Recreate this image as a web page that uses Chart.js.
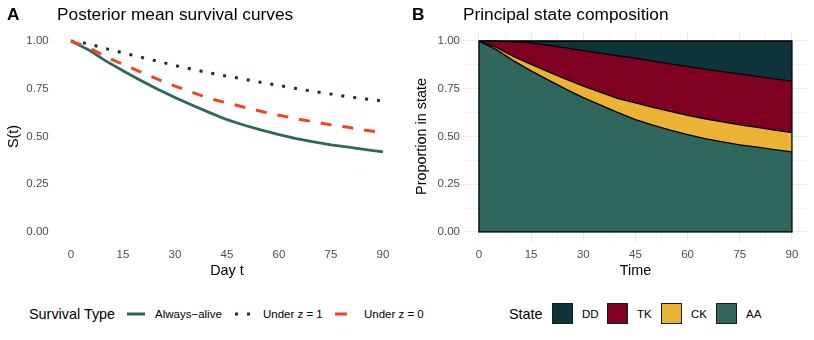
<!DOCTYPE html>
<html lang="en">
<head>
  <meta charset="UTF-8" />
  <title>Survival curves</title>
  <script src="https://cdn.jsdelivr.net/npm/chart.js@4.4.0/dist/chart.umd.min.js"></script>
  <style>
    body { margin: 0; background: #fff; font-family: "Liberation Sans", Arial, sans-serif; }
    #wrap { position: relative; width: 814px; height: 340px; overflow: hidden; }
    .panel { position: absolute; top: 0; }
    .t { position: absolute; white-space: nowrap; line-height: 1; color: #000; }
    .tag { font-size: 17.3px; font-weight: bold; }
    .ttl { font-size: 17.3px; }
    .lt { font-size: 14.4px; }
    .lab { font-size: 11.5px; }
    .key { position: absolute; }
    .sw { position: absolute; width: 19px; height: 19px; border: 1px solid #1a1a1a; top: 303px; }
  </style>
</head>
<body>
<div id="wrap">
  <canvas id="chartA" class="panel" style="left:0" width="407" height="285"></canvas>
  <canvas id="chartB" class="panel" style="left:407px" width="407" height="285"></canvas>

  <div class="t tag" style="left:7px;top:6px">A</div>
  <div class="t ttl" style="left:57px;top:6px">Posterior mean survival curves</div>
  <div class="t tag" style="left:412px;top:6px">B</div>
  <div class="t ttl" style="left:463px;top:6px">Principal state composition</div>

  <!-- legend A -->
  <div class="t lt" style="left:29px;top:306.8px">Survival Type</div>
  <svg class="key" style="left:127px;top:306px" width="18" height="16"><line x1="0" y1="8" x2="18" y2="8" stroke="#2F675D" stroke-width="3"/></svg>
  <div class="t lab" style="left:155px;top:308.6px">Always−alive</div>
  <svg class="key" style="left:235px;top:306px" width="17" height="16"><line x1="0" y1="8" x2="17" y2="8" stroke="#0C343A" stroke-width="3" stroke-dasharray="3 9"/></svg>
  <div class="t lab" style="left:263px;top:308.6px">Under z = 1</div>
  <svg class="key" style="left:335px;top:306px" width="17" height="16"><line x1="0" y1="8" x2="17" y2="8" stroke="#F0431E" stroke-width="3" stroke-dasharray="12 12"/></svg>
  <div class="t lab" style="left:364px;top:308.6px">Under z = 0</div>

  <!-- legend B -->
  <div class="t lt" style="left:509px;top:306.8px">State</div>
  <div class="sw" style="left:552px;background:#0C343A"></div>
  <div class="t lab" style="left:582px;top:308.6px">DD</div>
  <div class="sw" style="left:607px;background:#800022"></div>
  <div class="t lab" style="left:637px;top:308.6px">TK</div>
  <div class="sw" style="left:661px;background:#EBB234"></div>
  <div class="t lab" style="left:691px;top:308.6px">CK</div>
  <div class="sw" style="left:716px;background:#2F675D"></div>
  <div class="t lab" style="left:746px;top:308.6px">AA</div>
</div>
<script>
// values, every 5 days
const days        = [0, 5, 10, 15, 20, 25, 30, 35, 40, 45, 50, 55, 60, 65, 70, 75, 80, 85, 90]
const alwaysAlive = [1.000, 0.955, 0.896, 0.844, 0.795, 0.748, 0.704, 0.664, 0.625, 0.588, 0.559, 0.533, 0.510, 0.489, 0.472, 0.456, 0.444, 0.431, 0.419]
const underZ1     = [1.000, 0.986, 0.961, 0.938, 0.916, 0.894, 0.872, 0.852, 0.833, 0.816, 0.800, 0.783, 0.767, 0.751, 0.736, 0.722, 0.708, 0.697, 0.686]
const underZ0     = [1.000, 0.967, 0.918, 0.878, 0.839, 0.800, 0.764, 0.731, 0.699, 0.676, 0.653, 0.631, 0.611, 0.593, 0.577, 0.561, 0.548, 0.533, 0.520]

// state shares (stacked bottom to top: AA, CK, TK, DD)
const shareAA = [1.000, 0.955, 0.896, 0.844, 0.795, 0.748, 0.704, 0.664, 0.625, 0.588, 0.559, 0.533, 0.510, 0.489, 0.472, 0.456, 0.444, 0.431, 0.419]
const shareCK = [0.000, 0.012, 0.022, 0.034, 0.044, 0.052, 0.060, 0.067, 0.074, 0.088, 0.094, 0.098, 0.101, 0.104, 0.105, 0.105, 0.104, 0.102, 0.101]
const shareTK = [0.000, 0.032, 0.078, 0.112, 0.139, 0.164, 0.186, 0.205, 0.224, 0.234, 0.242, 0.249, 0.255, 0.260, 0.263, 0.267, 0.267, 0.269, 0.270]
const shareDD = [0.000, 0.001, 0.004, 0.010, 0.022, 0.036, 0.050, 0.064, 0.077, 0.090, 0.105, 0.120, 0.134, 0.147, 0.160, 0.172, 0.185, 0.198, 0.210]

const xTicks = [0, 15, 30, 45, 60, 75, 90]
const yTicks = [0, 0.25, 0.5, 0.75, 1]
const xMinor = [7.5, 22.5, 37.5, 52.5, 67.5, 82.5]
const yMinor = [0.125, 0.375, 0.625, 0.875]

const GREEN = '#2F675D'
const DARK = '#0C343A'
const RED = '#800022'
const GOLD = '#EBB234'
const ORANGE = '#F0431E'

Chart.defaults.font.family = '"Liberation Sans", Arial, sans-serif'

const pts = arr => days.map((d, i) => ({ x: d, y: arr[i] }))

const tickFont = { color: '#4D4D4D', font: { size: 11.5 }, maxRotation: 0, autoSkip: false }

// panel A
new Chart(document.getElementById('chartA'), {
  type: 'line',
  data: {
    datasets: [
      { label: 'Under z = 0', data: pts(underZ0), borderColor: ORANGE, borderWidth: 3, borderDash: [11, 11], borderCapStyle: 'butt', pointRadius: 0 },
      { label: 'Under z = 1', data: pts(underZ1), borderColor: DARK, borderWidth: 3, borderDash: [3, 9], borderCapStyle: 'butt', pointRadius: 0 },
      { label: 'Always−alive', data: pts(alwaysAlive), borderColor: GREEN, borderWidth: 2.8, pointRadius: 0 }
    ]
  },
  options: {
    responsive: false,
    animation: false,
    layout: { padding: { left: 0, right: 8.4, top: 31.5, bottom: 0 } },
    plugins: { legend: { display: false }, tooltip: { enabled: false } },
    scales: {
      x: {
        type: 'linear', min: -4.5, max: 94.5,
        afterBuildTicks: s => { s.ticks = xTicks.map(v => ({ value: v })) },
        afterFit: s => { s.height = 43.5 },
        grid: { display: false, drawTicks: false }, border: { display: false },
        ticks: { ...tickFont, padding: 6, callback: v => String(v) },
        title: { display: true, text: 'Day t', color: '#000', font: { size: 14.4 }, padding: { top: 0, bottom: 5.6 } }
      },
      y: {
        min: -0.05, max: 1.05,
        afterBuildTicks: s => { s.ticks = yTicks.map(v => ({ value: v })) },
        afterFit: s => { s.width = 55.4 },
        grid: { display: false, drawTicks: false }, border: { display: false },
        ticks: { ...tickFont, padding: 6.7, callback: v => v.toFixed(2) },
        title: { display: true, text: 'S(t)', color: '#000', font: { size: 14.4 }, padding: { top: 5.6, bottom: 0 } }
      }
    }
  }
})

// outline of the whole stack (sides and bottom)
const stackBox = {
  id: 'stackBox',
  afterDatasetsDraw(chart) {
    const { ctx, scales: { x, y } } = chart
    ctx.save()
    ctx.strokeStyle = '#000'
    ctx.lineWidth = 1.3
    ctx.strokeRect(x.getPixelForValue(0), y.getPixelForValue(1), x.getPixelForValue(90) - x.getPixelForValue(0), y.getPixelForValue(0) - y.getPixelForValue(1))
    ctx.restore()
  }
}

const gridOpts = {
  color: '#EBEBEB',
  drawTicks: false,
  lineWidth: c => (c.tick && c.tick.major ? 1.1 : 0.55)
}

// panel B
new Chart(document.getElementById('chartB'), {
  type: 'line',
  data: {
    datasets: [
      { label: 'AA', data: pts(shareAA), backgroundColor: GREEN, fill: 'origin' },
      { label: 'CK', data: pts(shareCK), backgroundColor: GOLD, fill: '-1' },
      { label: 'TK', data: pts(shareTK), backgroundColor: RED, fill: '-1' },
      { label: 'DD', data: pts(shareDD), backgroundColor: DARK, fill: '-1' }
    ].map(d => ({ ...d, borderColor: '#000', borderWidth: 1.3, pointRadius: 0 }))
  },
  options: {
    responsive: false,
    animation: false,
    layout: { padding: { left: 0, right: 6.4, top: 31.5, bottom: 0 } },
    plugins: { legend: { display: false }, tooltip: { enabled: false } },
    scales: {
      x: {
        type: 'linear', min: -4.5, max: 94.5,
        afterBuildTicks: s => { s.ticks = xTicks.map(v => ({ value: v, major: true })).concat(xMinor.map(v => ({ value: v, major: false }))) },
        afterFit: s => { s.height = 43.5 },
        grid: gridOpts, border: { display: false },
        ticks: { ...tickFont, padding: 6, callback: v => (xTicks.includes(v) ? String(v) : '') },
        title: { display: true, text: 'Time', color: '#000', font: { size: 14.4 }, padding: { top: 0, bottom: 5.6 } }
      },
      y: {
        stacked: true,
        min: -0.05, max: 1.05,
        afterBuildTicks: s => { s.ticks = yTicks.map(v => ({ value: v, major: true })).concat(yMinor.map(v => ({ value: v, major: false }))) },
        afterFit: s => { s.width = 56.3 },
        grid: gridOpts, border: { display: false },
        ticks: { ...tickFont, padding: 3.3, callback: v => (yTicks.includes(v) ? v.toFixed(2) : '') },
        title: { display: true, text: 'Proportion in state', color: '#000', font: { size: 14.4 }, padding: { top: 6.4, bottom: 0 } }
      }
    }
  },
  plugins: [stackBox]
})
</script>
</body>
</html>
